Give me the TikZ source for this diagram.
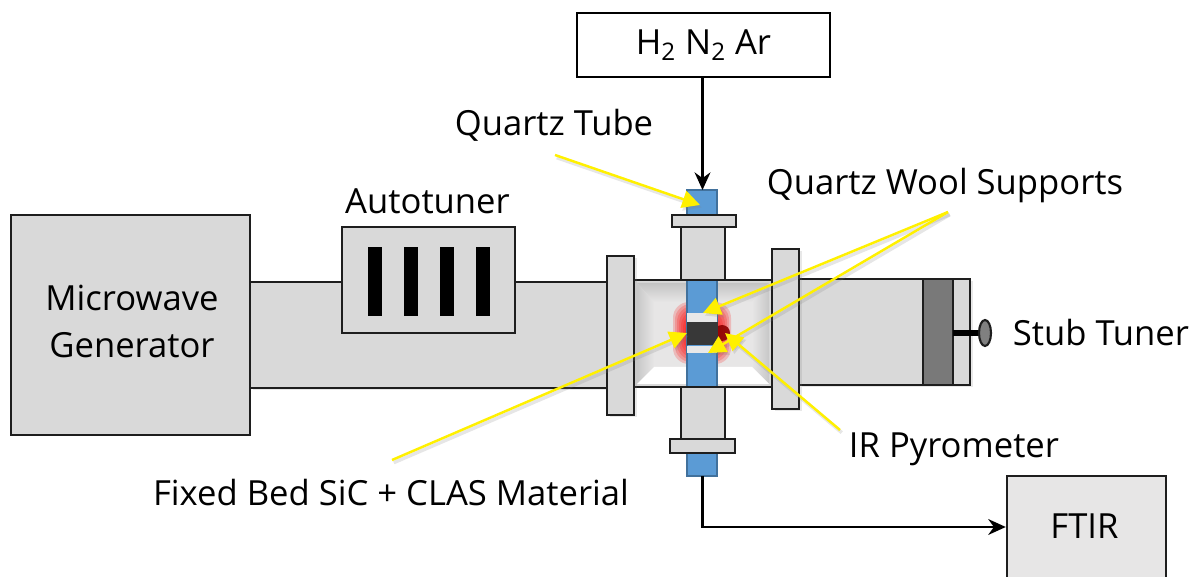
\documentclass[tikz,border=0pt]{standalone}
\usepackage{fontspec}
\setmainfont{Open Sans}
\usetikzlibrary{arrows.meta,shadows}
\definecolor{partgray}{HTML}{D9D9D9}
\definecolor{boxgray}{HTML}{E7E6E6}
\definecolor{edgegray}{HTML}{1E1E1E}
\definecolor{tubeblue}{HTML}{5B9BD5}
\definecolor{tubeedge}{HTML}{41719C}
\definecolor{pointeryellow}{HTML}{FFF000}
\tikzset{
  part/.style={draw=edgegray,line width=1.4pt,fill=partgray},
  softpart/.style={part,drop shadow={shadow xshift=0.05cm,shadow yshift=-0.05cm,opacity=0.18}},
  labeltext/.style={font=\fontsize{19.7}{26.8}\selectfont,inner sep=0pt,align=center},
  feedline/.style={draw=black,line width=1.4pt,-{Stealth[length=10pt,width=9pt]}},
  pointer/.style={draw=pointeryellow,line width=1.4pt,-{Triangle[length=10pt,width=10pt]},
    preaction={draw=gray,opacity=0.2,line width=2pt,transform canvas={xshift=1pt,yshift=-1.5pt}}}
}
\begin{document}
\begin{tikzpicture}[x=0.02cm,y=-0.02cm]
\useasboundingbox (0,0) rectangle (1190,577);

% Waveguide sections
\draw[softpart] (250,282) rectangle (607,388);
\draw[softpart] (799,279) rectangle (970,385);

% Generator and autotuner
\node[part,minimum width=4.78cm,minimum height=4.4cm,labeltext] (generator) at (130.5,325) {};
\node[labeltext] (generatorlabel) at (132,321.5) {Microwave\\Generator};
\node[part,minimum width=3.46cm,minimum height=2.12cm] (autotuner) at (428.5,280) {};
\foreach \xbar in {368,404,440,476}
  \fill[black] (\xbar,247) rectangle (\xbar+14,316);
\node[labeltext] (autotunerlabel) at (427.5,201) {Autotuner};

% Stub tuner
\draw[part,fill=gray!95!black] (923,279) rectangle (953,385);
\draw[part] (953,279) rectangle (970,385);
\draw[line width=3pt,black] (953,333) -- (980,333);
\draw[draw=edgegray,line width=1.2pt,fill=gray] (985,333) ellipse (6 and 13);
\node[labeltext,anchor=west] (stublabel) at (1012.5,333) {Stub Tuner};

% Cavity with bevelled walls
\draw[part,fill=partgray] (634,280) rectangle (772,387);
\fill[boxgray] (637,283) rectangle (769,384);
\shade[top color=partgray!90!black,bottom color=boxgray] (637,283) -- (769,283) -- (752,302) -- (654,302) -- cycle;
\shade[left color=partgray!92!black,right color=boxgray] (637,283) -- (654,302) -- (654,367) -- (637,384) -- cycle;
\shade[right color=partgray!92!black,left color=boxgray] (769,283) -- (752,302) -- (752,367) -- (769,384) -- cycle;
\fill[white] (637,384) -- (654,367) -- (752,367) -- (769,384) -- cycle;

% Flanges of the cavity
\draw[softpart] (607,256) rectangle (634,415);
\draw[softpart] (772,249) rectangle (799,409);

% Glow around the bed
\foreach \gsize in {14,12,10,8,6,4,2}
  \fill[red,opacity=0.19,rounded corners=9pt] (687-\gsize,313-\gsize+3) rectangle (717+\gsize,353+\gsize-3);
\fill[red!55!black,opacity=0.9] (722,333) ellipse (8 and 8);

% Quartz tube
\draw[draw=tubeedge,line width=1pt,fill=tubeblue] (687,190) rectangle (717,476);
\coordinate (tubetop) at (702.5,190);
\coordinate (tubebottom) at (702.5,476);

% Necks and collars
\draw[part] (681,227) rectangle (725,280);
\draw[part] (672,215) rectangle (736,227);
\draw[part] (681,387) rectangle (725,439);
\draw[part] (670,439) rectangle (735,453);

% Fixed bed and wool supports
\fill[partgray!60!white] (687,313) rectangle (717,322);
\fill[black!78] (687,322) rectangle (718,345);
\fill[partgray!60!white] (687,346) rectangle (717,353);

% Gas lines
\node[draw=black,line width=1.4pt,fill=white,minimum width=5.06cm,minimum height=1.28cm,labeltext] (gas) at (703.5,45) {H\textsubscript{2} N\textsubscript{2} Ar};
\node[part,fill=boxgray,minimum width=3.18cm,minimum height=2.04cm] (ftir) at (1086.5,527) {};
\node[labeltext] (ftirlabel) at (1084.5,526) {FTIR};
\draw[feedline] (gas.south -| tubetop) -- (tubetop);
\draw[feedline] (tubebottom) |- (ftir.west);

% Labels
\node[labeltext] (tubelabel) at (554,125) {Quartz Tube};
\node[labeltext] (woollabel) at (945,186) {Quartz Wool Supports};
\node[labeltext] (irlabel) at (954,449.5) {IR Pyrometer};
\node[labeltext] (bedlabel) at (391,493) {Fixed Bed SiC + CLAS Material};

% Yellow pointers
\coordinate (tubestart) at (555,155);
\coordinate (tubetip) at (700,205);
\coordinate (woolstart) at (948,212);
\coordinate (wooltipa) at (703,313);
\coordinate (wooltipb) at (708,353);
\coordinate (bedstart) at (392,460);
\coordinate (bedtip) at (687,333);
\coordinate (irstart) at (840,430);
\coordinate (irtip) at (725,333);
\draw[pointer] (tubestart) -- (tubetip);
\draw[pointer] (woolstart) -- (wooltipa);
\draw[pointer] (woolstart) -- (wooltipb);
\draw[pointer] (bedstart) -- (bedtip);
\draw[pointer] (irstart) -- (irtip);
\end{tikzpicture}
\end{document}
